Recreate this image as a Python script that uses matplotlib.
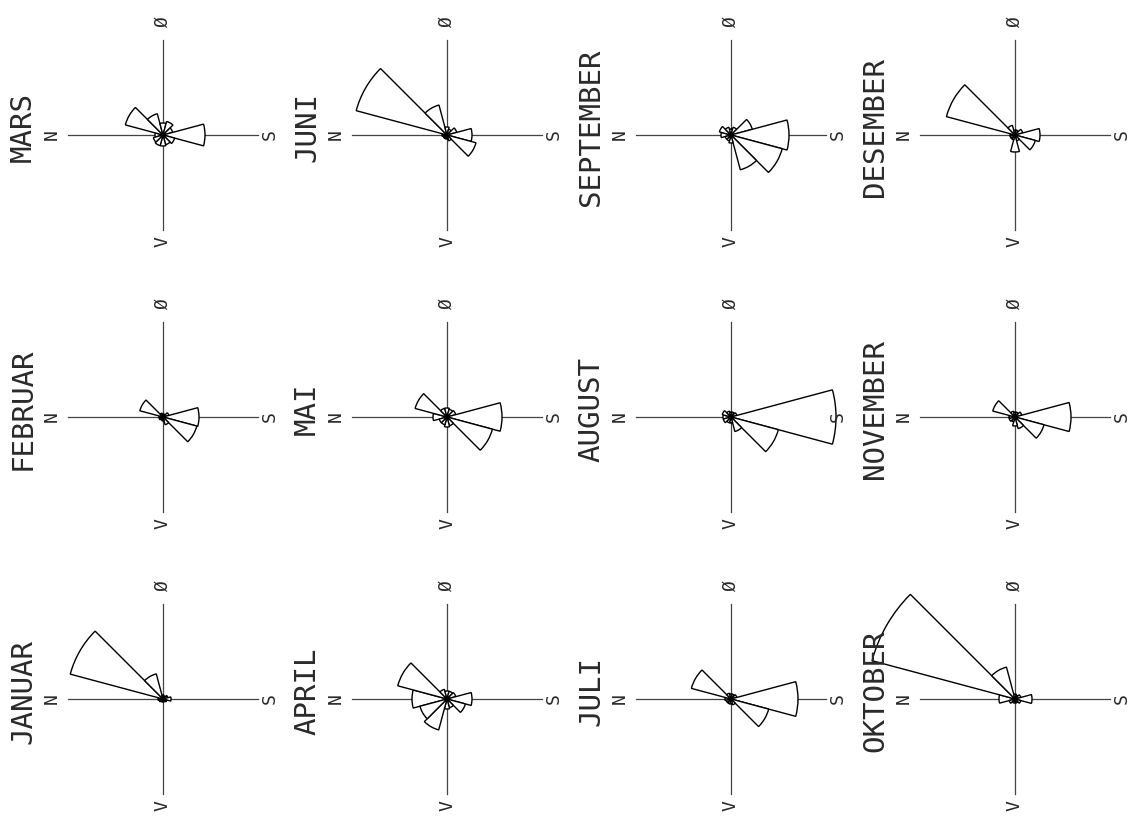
import numpy as np
import matplotlib.pyplot as plt

plt.rcParams['font.family'] = ['DejaVu Sans Mono', 'DejaVu Sans']

# vindretning i sektorer paa 30 grader, 0 = N, 90 = Ø, 180 = S, 270 = V
sektorer = np.arange(0, 360, 30)

# lengde av hver sektor (samme enhet som aksekorset, som er 95 langt)
januar    = [5, 96, 26, 4, 3, 5, 8, 4, 3, 3, 3, 4]
februar   = [4, 24, 4, 3, 3, 6, 36, 35, 8, 4, 3, 4]
mars      = [8, 39, 22, 12, 14, 10, 42, 12, 10, 11, 11, 10]
april     = [35, 51, 10, 8, 8, 9, 25, 19, 9, 10, 32, 28]
mai       = [14, 33, 9, 9, 8, 9, 55, 47, 9, 10, 8, 8]
juni      = [5, 94, 31, 8, 6, 10, 25, 30, 6, 4, 4, 4]
juli      = [6, 41, 6, 5, 5, 6, 67, 39, 6, 5, 5, 5]
august    = [8, 9, 6, 5, 5, 6, 105, 49, 15, 6, 6, 8]
september = [10, 12, 8, 6, 8, 22, 58, 53, 36, 8, 6, 6]
oktober   = [16, 148, 33, 5, 4, 6, 17, 6, 4, 4, 4, 6]
november  = [6, 23, 6, 5, 5, 7, 56, 30, 12, 9, 5, 6]
desember  = [5, 71, 10, 5, 5, 8, 25, 21, 6, 17, 5, 5]

maaneder = ['JANUAR', 'FEBRUAR', 'MARS', 'APRIL', 'MAI', 'JUNI',
            'JULI', 'AUGUST', 'SEPTEMBER', 'OKTOBER', 'NOVEMBER', 'DESEMBER']
data = [januar, februar, mars, april, mai, juni,
        juli, august, september, oktober, november, desember]

arm = 95      # lengde paa aksekorset
rmax = 150    # radius til hver polar-akse

W, H = 1134, 830
fig = plt.figure(figsize=(W / 100, H / 100), dpi=100)
fig.patch.set_facecolor('white')

# senter for rosene (piksler), siden er dreid 90 grader
kol_x = [163, 447, 731, 1015]
rad_y = [699, 417, 135]

theta = np.radians(sektorer)
bredde = np.radians(30)

for i in range(len(maaneder)):
    cx = kol_x[i // 3]
    cy = rad_y[i % 3]
    ax = fig.add_axes([(cx - rmax) / W, (H - cy - rmax) / H,
                       2 * rmax / W, 2 * rmax / H], projection='polar')
    ax.set_theta_zero_location('W')
    ax.set_theta_direction(-1)
    ax.set_rlim(0, rmax)
    ax.set_axis_off()
    ax.patch.set_visible(False)

    # aksekorset
    for vinkel in [0, 90, 180, 270]:
        ax.plot([np.radians(vinkel)] * 2, [0, arm], color='#444444',
                lw=0.9, zorder=1)

    ax.bar(theta, data[i], width=bredde, bottom=0, facecolor='white',
           edgecolor='black', linewidth=1.0, zorder=2)

    tekst = dict(rotation=90, ha='center', va='center', fontsize=13,
                 color='#2a2a2a', zorder=5)
    ax.text(np.radians(0), 111, 'N', **tekst)
    ax.text(np.radians(180), 107, 'S', **tekst)
    ax.text(np.radians(90), 113, 'Ø', **tekst)
    ax.text(np.radians(270), 107, 'V', **tekst)

    ax.text(0.5 - 140 / (2 * rmax), 0.5 + 8 / (2 * rmax), maaneder[i],
            transform=ax.transAxes, rotation=90, ha='center', va='center',
            fontsize=21, color='#2a2a2a', zorder=5)

fig.savefig('out.png', dpi=100)
